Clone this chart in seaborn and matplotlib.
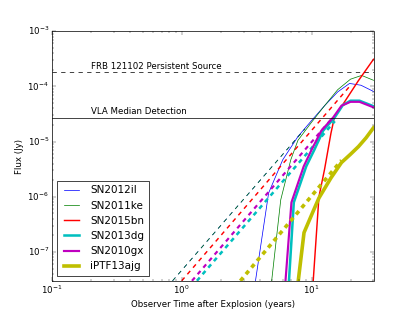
import matplotlib
matplotlib.use('Agg')
import matplotlib.pyplot as plt
import seaborn as sns

plt.style.use('classic')
plt.rcParams['figure.facecolor'] = 'white'
plt.rcParams['savefig.facecolor'] = 'white'
plt.rcParams['xtick.major.size'] = 6
plt.rcParams['ytick.major.size'] = 6
plt.rcParams['xtick.minor.size'] = 3
plt.rcParams['ytick.minor.size'] = 3

# supernova names / colours / widths (legend order)
names = ['SN2012il', 'SN2011ke', 'SN2015bn', 'SN2013dg', 'SN2010gx', 'iPTF13ajg']
colors = ['b', 'g', 'r', 'c', 'm', 'y']
widths = [1, 1, 2, 3.5, 3, 5]

# solid model curves: time (years), flux (Jy)
t_12il = [3.70, 4.67, 6.00, 7.85, 10.0, 12.6, 15.9, 19.6, 24.0, 30.0]
f_12il = [3.0e-8, 1.17e-6, 4.68e-6, 1.23e-5, 2.40e-5, 4.47e-5, 7.94e-5, 1.13e-4, 1.05e-4, 8.1e-5]
t_11ke = [4.93, 5.79, 6.92, 7.85, 10.0, 12.6, 15.9, 19.95, 24.3, 30.0]
f_11ke = [3.0e-8, 8.8e-7, 4.68e-6, 1.05e-5, 2.24e-5, 4.47e-5, 8.71e-5, 1.35e-4, 1.58e-4, 1.29e-4]
t_15bn = [10.3, 11.4, 12.6, 14.1, 15.0, 18.2, 22.9, 30.0]
f_15bn = [3.0e-8, 1.0e-6, 3.16e-6, 1.41e-5, 2.75e-5, 5.5e-5, 1.26e-4, 3.1e-4]
t_13dg = [6.7, 7.3, 9.1, 10.5, 12.3, 15.1, 17.4, 19.95, 23.4, 30.0]
f_13dg = [3.0e-8, 7.9e-7, 3.55e-6, 7.08e-6, 1.58e-5, 2.75e-5, 4.57e-5, 5.5e-5, 5.5e-5, 4.37e-5]
t_10gx = [6.3, 7.0, 8.7, 10.0, 11.9, 14.7, 17.0, 19.95, 23.4, 30.0]
f_10gx = [3.0e-8, 7.9e-7, 3.55e-6, 7.08e-6, 1.58e-5, 2.75e-5, 4.47e-5, 5.25e-5, 5.25e-5, 4.17e-5]
t_13ajg = [7.9, 8.75, 10.3, 11.4, 14.1, 17.0, 19.95, 23.0, 26.3, 30.0]
f_13ajg = [3.0e-8, 2.24e-7, 5.5e-7, 9.5e-7, 2.19e-6, 4.17e-6, 5.89e-6, 8.13e-6, 1.17e-5, 1.78e-5]

# dashed early power-law tracks
td_12il = [0.85, 8.9]
fd_12il = [3.0e-8, 1.7e-5]
td_11ke = [0.85, 8.9]
fd_11ke = [3.0e-8, 1.7e-5]
td_15bn = [1.0, 19.5]
fd_15bn = [3.0e-8, 9.8e-5]
td_13dg = [1.31, 15.1]
fd_13dg = [3.0e-8, 2.34e-5]
td_10gx = [1.2, 14.1]
fd_10gx = [3.0e-8, 2.5e-5]
td_13ajg = [2.83, 17.0]
fd_13ajg = [3.0e-8, 4.57e-6]

solid_t = [t_12il, t_11ke, t_15bn, t_13dg, t_10gx, t_13ajg]
solid_f = [f_12il, f_11ke, f_15bn, f_13dg, f_10gx, f_13ajg]
dash_t = [td_12il, td_11ke, td_15bn, td_13dg, td_10gx, td_13ajg]
dash_f = [fd_12il, fd_11ke, fd_15bn, fd_13dg, fd_10gx, fd_13ajg]

frb_flux = 1.85e-4
vla_flux = 2.7e-5

fig, ax = plt.subplots(figsize=(415 / 52, 312 / 52), dpi=52)
ax.set_xscale('log')
ax.set_yscale('log')

for i in range(len(names)):
    sns.lineplot(x=dash_t[i], y=dash_f[i], color=colors[i], lw=widths[i], ls='--',
                 ax=ax, errorbar=None)
    sns.lineplot(x=solid_t[i], y=solid_f[i], color=colors[i], lw=widths[i],
                 ax=ax, errorbar=None, label=names[i])

ax.axhline(frb_flux, color='k', ls='--', lw=1)
ax.axhline(vla_flux, color='k', ls='-', lw=1)
ax.text(0.2, frb_flux * 1.03, 'FRB 121102 Persistent Source', fontsize=12, va='bottom')
ax.text(0.2, vla_flux * 1.08, 'VLA Median Detection', fontsize=12, va='bottom')

ax.set_xlim(0.1, 30)
ax.set_ylim(3e-8, 1e-3)
ax.set_xlabel('Observer Time after Explosion (years)')
ax.set_ylabel('Flux (Jy)')
ax.legend(loc='lower left', fontsize='large')

fig.savefig('out.png', dpi=52)
